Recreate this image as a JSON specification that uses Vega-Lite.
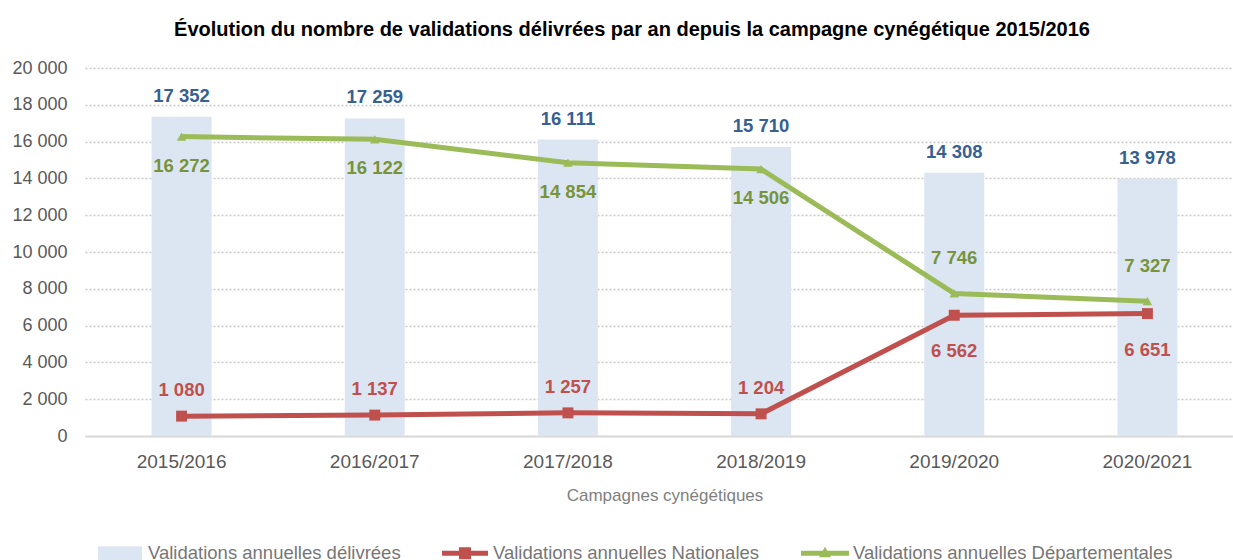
{
  "$schema": "https://vega.github.io/schema/vega-lite/v6.json",
  "autosize": {"type": "none"},
  "padding": {"left": 85, "top": 68, "right": 0, "bottom": 124},
  "width": 1148,
  "height": 368,
  "background": "white",
  "title": {
    "text": "Évolution du nombre de validations délivrées par an depuis la campagne cynégétique 2015/2016",
    "font": "Liberation Sans",
    "fontSize": 20,
    "fontWeight": "bold",
    "color": "#000000",
    "anchor": "middle",
    "frame": "group",
    "dx": -27,
    "offset": 19
  },
  "data": {
    "values": [
      {"campagne": "2015/2016", "serie": "Validations annuelles délivrées", "valeur": 17352},
      {"campagne": "2016/2017", "serie": "Validations annuelles délivrées", "valeur": 17259},
      {"campagne": "2017/2018", "serie": "Validations annuelles délivrées", "valeur": 16111},
      {"campagne": "2018/2019", "serie": "Validations annuelles délivrées", "valeur": 15710},
      {"campagne": "2019/2020", "serie": "Validations annuelles délivrées", "valeur": 14308},
      {"campagne": "2020/2021", "serie": "Validations annuelles délivrées", "valeur": 13978},
      {"campagne": "2015/2016", "serie": "Validations annuelles Nationales", "valeur": 1080},
      {"campagne": "2016/2017", "serie": "Validations annuelles Nationales", "valeur": 1137},
      {"campagne": "2017/2018", "serie": "Validations annuelles Nationales", "valeur": 1257},
      {"campagne": "2018/2019", "serie": "Validations annuelles Nationales", "valeur": 1204},
      {"campagne": "2019/2020", "serie": "Validations annuelles Nationales", "valeur": 6562},
      {"campagne": "2020/2021", "serie": "Validations annuelles Nationales", "valeur": 6651},
      {"campagne": "2015/2016", "serie": "Validations annuelles Départementales", "valeur": 16272},
      {"campagne": "2016/2017", "serie": "Validations annuelles Départementales", "valeur": 16122},
      {"campagne": "2017/2018", "serie": "Validations annuelles Départementales", "valeur": 14854},
      {"campagne": "2018/2019", "serie": "Validations annuelles Départementales", "valeur": 14506},
      {"campagne": "2019/2020", "serie": "Validations annuelles Départementales", "valeur": 7746},
      {"campagne": "2020/2021", "serie": "Validations annuelles Départementales", "valeur": 7327}
    ]
  },
  "encoding": {
    "x": {
      "field": "campagne",
      "type": "nominal",
      "sort": null,
      "scale": {"range": [0, 1159], "paddingInner": 0.69, "paddingOuter": 0.345},
      "axis": {
        "title": "Campagnes cynégétiques",
        "labelAngle": 0,
        "ticks": false,
        "domainColor": "#d9d9d9",
        "domainWidth": 2,
        "labelFont": "Liberation Sans",
        "labelFontSize": 19,
        "labelColor": "#595959",
        "labelPadding": 16,
        "titleFont": "Liberation Sans",
        "titleFontSize": 17,
        "titleFontWeight": "normal",
        "titleColor": "#7f7f7f",
        "titlePadding": 16,
        "grid": false
      }
    },
    "y": {
      "field": "valeur",
      "type": "quantitative",
      "scale": {"domain": [0, 20000], "nice": false},
      "axis": {
        "title": null,
        "values": [0, 2000, 4000, 6000, 8000, 10000, 12000, 14000, 16000, 18000, 20000],
        "labelExpr": "format(datum.value, ',.0f')",
        "domain": false,
        "ticks": false,
        "labelFont": "Liberation Sans",
        "labelFontSize": 18,
        "labelColor": "#595959",
        "labelPadding": 18,
        "grid": true,
        "gridColor": "#c8c8c8",
        "gridDash": [2, 2],
        "gridWidth": 1.5
      }
    }
  },
  "layer": [
    {
      "transform": [{"filter": "datum.serie === 'Validations annuelles délivrées'"}],
      "mark": {"type": "bar", "size": 60, "color": "#dce6f2"}
    },
    {
      "mark": {"type": "point", "filled": true, "opacity": 0},
      "encoding": {
        "color": {
          "field": "serie",
          "type": "nominal",
          "scale": {
            "domain": ["Validations annuelles délivrées", "Validations annuelles Nationales", "Validations annuelles Départementales"],
            "range": ["#dce6f2", "#c0504d", "#9bbb59"]
          },
          "legend": {
            "title": null,
            "orient": "none",
            "direction": "horizontal",
            "legendX": 25,
            "legendY": 475,
            "symbolSize": 400,
            "symbolOpacity": 1,
            "symbolStrokeWidth": 0,
            "labelOffset": 18,
            "labelLimit": 500,
            "columnPadding": 41,
            "labelFont": "Liberation Sans",
            "labelFontSize": 18.5,
            "labelColor": "#767676",
            "padding": 0
          }
        },
        "shape": {
          "field": "serie",
          "type": "nominal",
          "scale": {
            "domain": ["Validations annuelles délivrées", "Validations annuelles Nationales", "Validations annuelles Départementales"],
            "range": [
              "M-2.2,-0.7H2.2V0.7H-2.2Z",
              "M-2.3,-0.25H2.3V0.25H-2.3Z M-0.6,-0.6H0.6V0.6H-0.6Z",
              "M-2.4,-0.25H2.4V0.25H-2.4Z M0,-0.65L0.6,0.4H-0.6Z"
            ]
          },
          "legend": {
            "title": null,
            "orient": "none",
            "direction": "horizontal",
            "legendX": 25,
            "legendY": 475,
            "symbolSize": 400,
            "symbolOpacity": 1,
            "symbolStrokeWidth": 0,
            "labelOffset": 18,
            "labelLimit": 500,
            "columnPadding": 41,
            "labelFont": "Liberation Sans",
            "labelFontSize": 18.5,
            "labelColor": "#767676",
            "padding": 0
          }
        }
      }
    },
    {
      "transform": [{"filter": "datum.serie === 'Validations annuelles Nationales'"}],
      "mark": {"type": "line", "color": "#c0504d", "strokeWidth": 5}
    },
    {
      "transform": [{"filter": "datum.serie === 'Validations annuelles Départementales'"}],
      "mark": {"type": "line", "color": "#9bbb59", "strokeWidth": 5}
    },
    {
      "transform": [{"filter": "datum.serie === 'Validations annuelles Nationales'"}],
      "mark": {"type": "point", "shape": "square", "filled": true, "opacity": 1, "color": "#c0504d", "size": 120}
    },
    {
      "transform": [{"filter": "datum.serie === 'Validations annuelles Départementales'"}],
      "mark": {"type": "point", "shape": "triangle-up", "filled": true, "opacity": 1, "color": "#9bbb59", "size": 90}
    },
    {
      "transform": [{"filter": "datum.serie === 'Validations annuelles délivrées'"}],
      "mark": {"type": "text", "font": "Liberation Sans", "fontSize": 18.5, "fontWeight": "bold", "color": "#376092", "dy": -21, "baseline": "middle"},
      "encoding": {"text": {"field": "valeur", "type": "quantitative", "format": ","}}
    },
    {
      "transform": [{"filter": "datum.serie === 'Validations annuelles Départementales' && indexof(['2015/2016','2016/2017','2017/2018','2018/2019'], datum.campagne) >= 0"}],
      "mark": {"type": "text", "font": "Liberation Sans", "fontSize": 18.5, "fontWeight": "bold", "color": "#77933c", "dy": 29, "baseline": "middle"},
      "encoding": {"text": {"field": "valeur", "type": "quantitative", "format": ","}}
    },
    {
      "transform": [{"filter": "datum.serie === 'Validations annuelles Départementales' && indexof(['2019/2020','2020/2021'], datum.campagne) >= 0"}],
      "mark": {"type": "text", "font": "Liberation Sans", "fontSize": 18.5, "fontWeight": "bold", "color": "#77933c", "dy": -35, "baseline": "middle"},
      "encoding": {"text": {"field": "valeur", "type": "quantitative", "format": ","}}
    },
    {
      "transform": [{"filter": "datum.serie === 'Validations annuelles Nationales' && indexof(['2015/2016','2016/2017','2017/2018','2018/2019'], datum.campagne) >= 0"}],
      "mark": {"type": "text", "font": "Liberation Sans", "fontSize": 18.5, "fontWeight": "bold", "color": "#c0504d", "dy": -26, "baseline": "middle"},
      "encoding": {"text": {"field": "valeur", "type": "quantitative", "format": ","}}
    },
    {
      "transform": [{"filter": "datum.serie === 'Validations annuelles Nationales' && indexof(['2019/2020','2020/2021'], datum.campagne) >= 0"}],
      "mark": {"type": "text", "font": "Liberation Sans", "fontSize": 18.5, "fontWeight": "bold", "color": "#c0504d", "dy": 36, "baseline": "middle"},
      "encoding": {"text": {"field": "valeur", "type": "quantitative", "format": ","}}
    }
  ],
  "config": {
    "locale": {
      "number": {"decimal": ",", "thousands": " ", "grouping": [3], "currency": ["", " €"]}
    },
    "view": {"stroke": null}
  }
}
